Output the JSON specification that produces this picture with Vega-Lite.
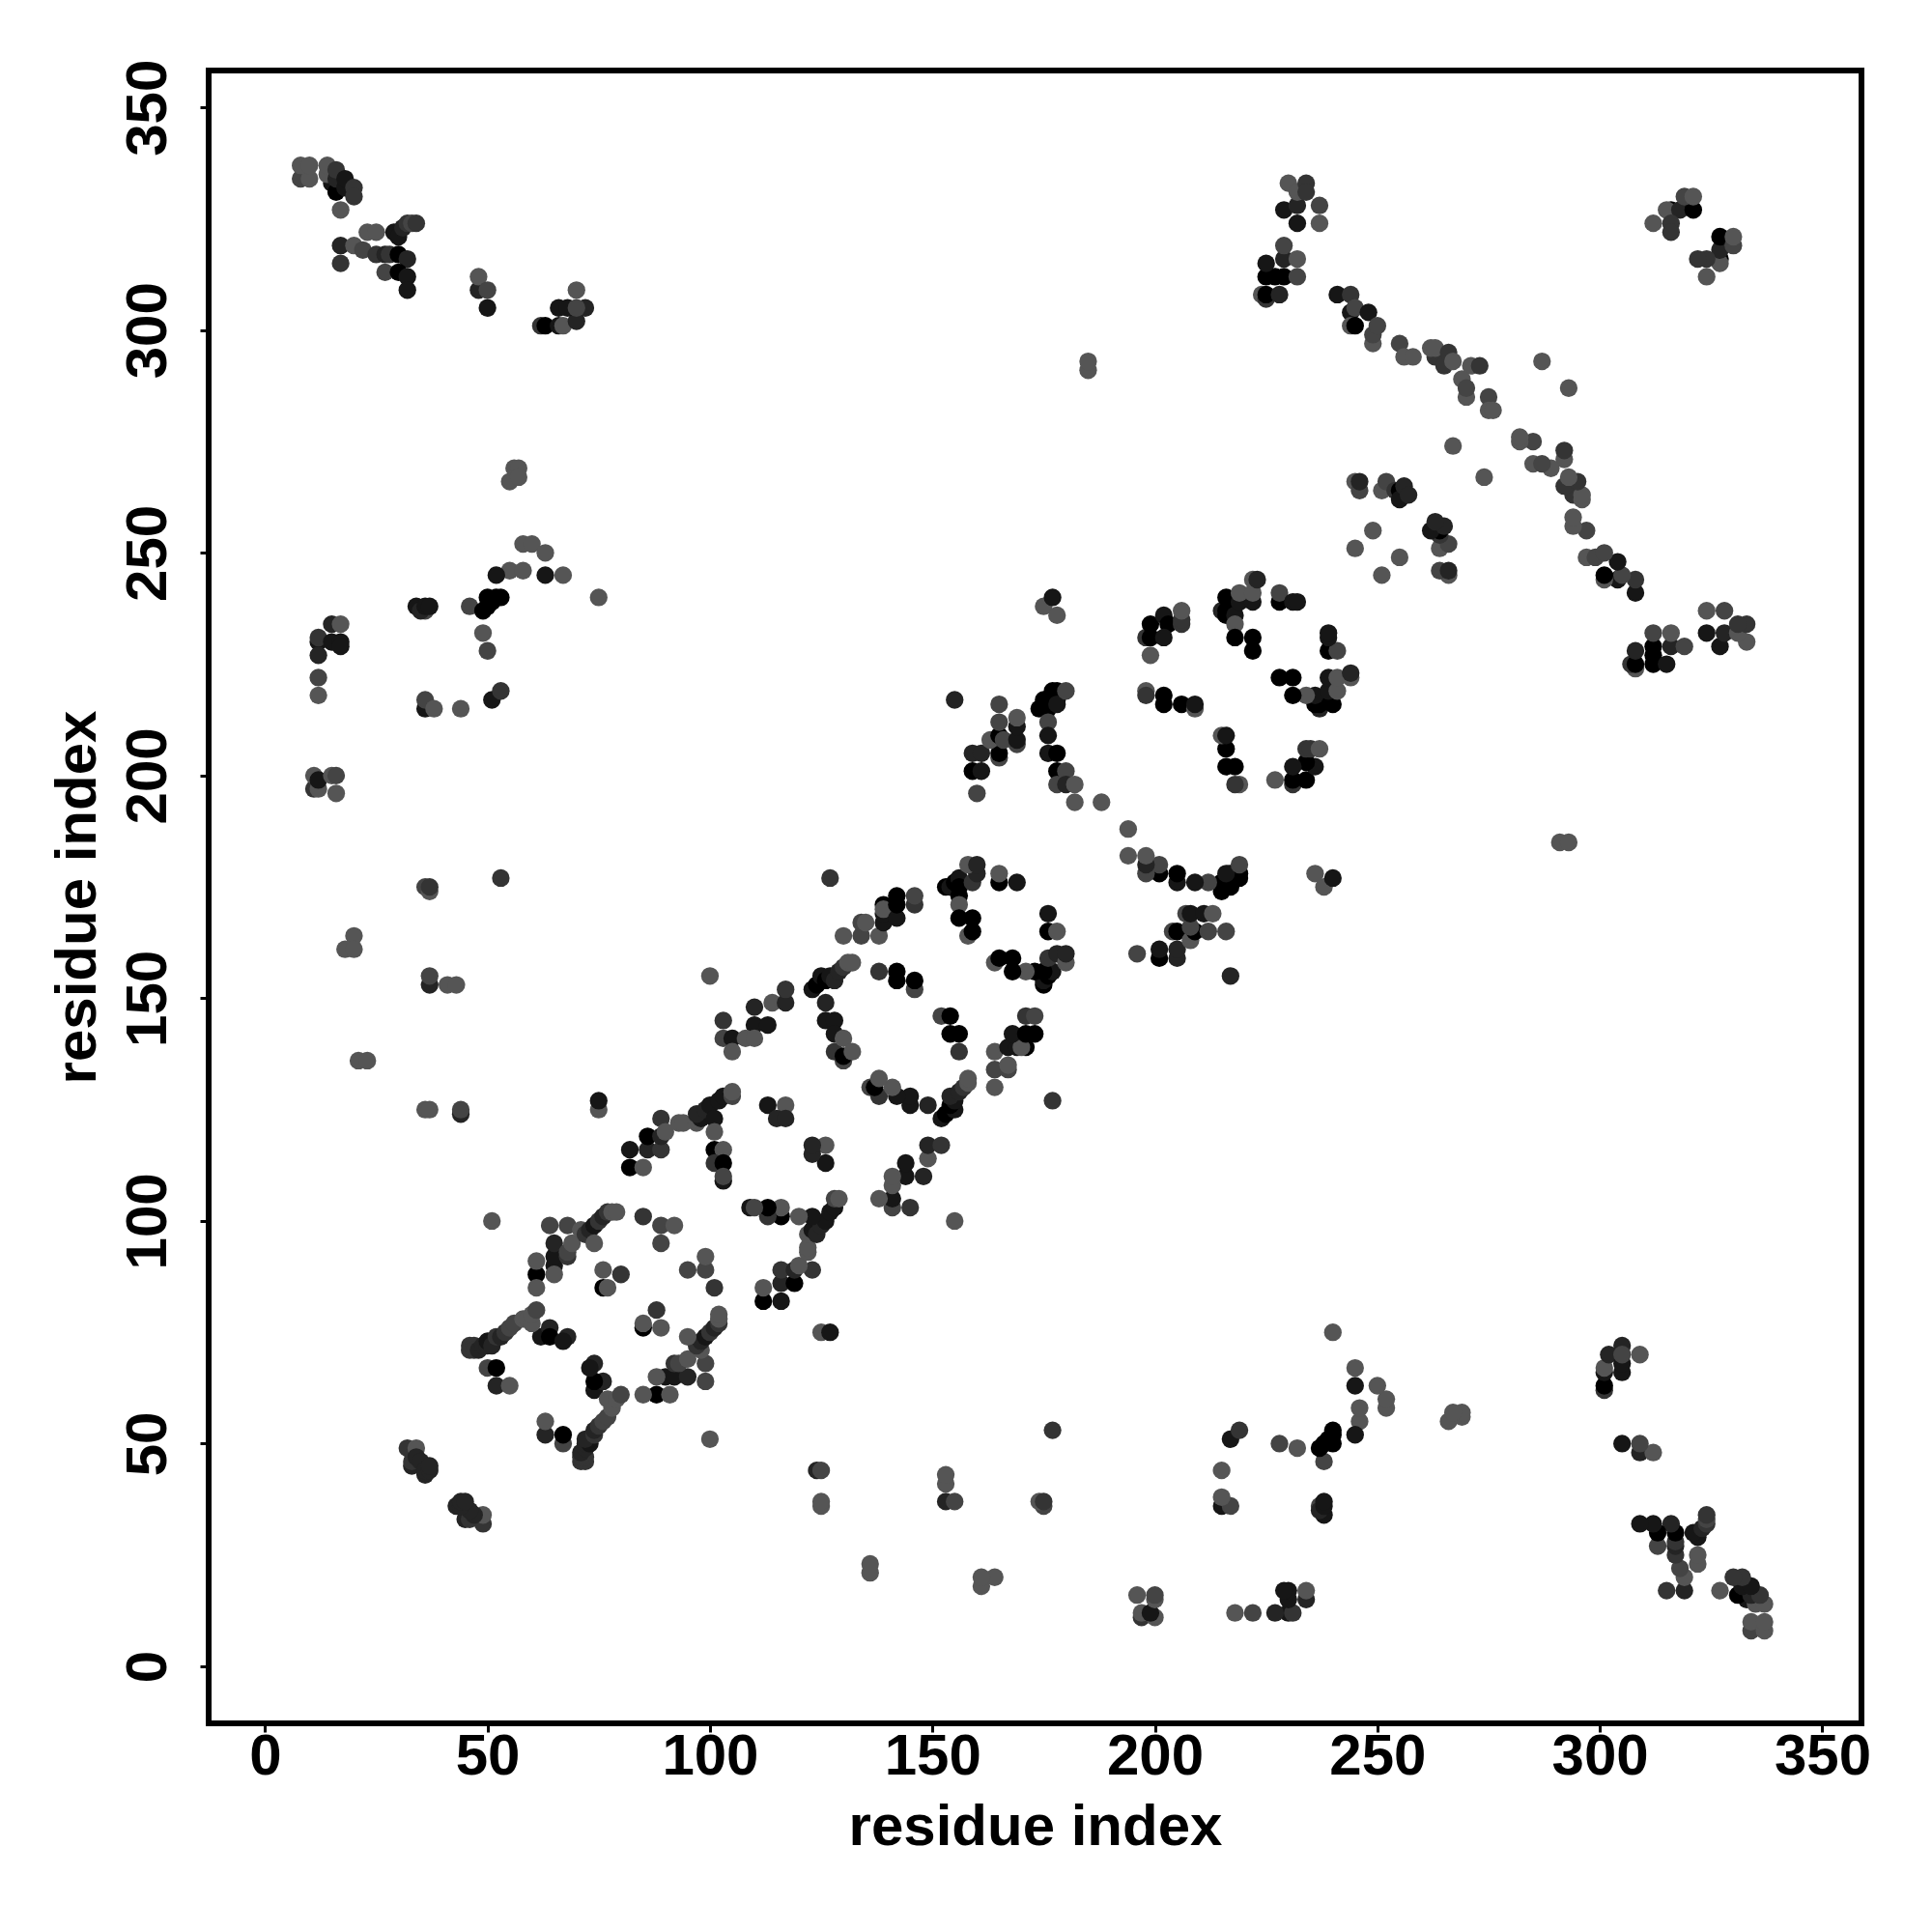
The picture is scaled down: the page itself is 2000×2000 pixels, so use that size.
{"$schema":"https://vega.github.io/schema/vega-lite/v6.json","width":1711,"height":1711,"autosize":{"type":"none"},"padding":{"left":216,"top":73,"right":73,"bottom":216},"background":"white","view":{"stroke":"#000000","strokeWidth":6,"fill":"white"},
"data":{"values":[
{"x":8,"y":334,"s":4},{"x":10,"y":334,"s":5},{"x":8,"y":337,"s":5},{"x":10,"y":337,"s":5},{"x":15,"y":333,"s":1},{"x":16,"y":331,"s":0},{"x":14,"y":335,"s":5},{"x":14,"y":337,"s":5},{"x":16,"y":334,"s":2},{"x":16,"y":336,"s":3},{"x":18,"y":332,"s":1},{"x":18,"y":334,"s":1},{"x":20,"y":332,"s":3},{"x":20,"y":330,"s":3},{"x":17,"y":327,"s":5},
{"x":23,"y":322,"s":5},{"x":25,"y":322,"s":5},{"x":29,"y":322,"s":1},{"x":30,"y":321,"s":1},{"x":31,"y":323,"s":2},{"x":32,"y":324,"s":3},{"x":33,"y":324,"s":4},{"x":34,"y":324,"s":3},{"x":17,"y":319,"s":2},{"x":20,"y":319,"s":5},{"x":22,"y":318,"s":4},{"x":25,"y":317,"s":3},{"x":27,"y":317,"s":2},{"x":28,"y":317,"s":3},{"x":30,"y":317,"s":0},{"x":32,"y":316,"s":2},{"x":17,"y":315,"s":3},{"x":27,"y":313,"s":4},{"x":30,"y":313,"s":0},{"x":32,"y":312,"s":1},{"x":32,"y":309,"s":1},
{"x":48,"y":309,"s":2},{"x":48,"y":312,"s":5},{"x":50,"y":309,"s":4},{"x":50,"y":305,"s":1},{"x":62,"y":301,"s":3},{"x":63,"y":301,"s":0},{"x":66,"y":301,"s":1},{"x":67,"y":301,"s":5},{"x":70,"y":302,"s":2},{"x":66,"y":305,"s":1},{"x":68,"y":305,"s":1},{"x":72,"y":305,"s":2},{"x":70,"y":305,"s":4},{"x":70,"y":309,"s":5},
{"x":55,"y":266,"s":5},{"x":56,"y":269,"s":5},{"x":57,"y":269,"s":5},{"x":57,"y":267,"s":5},{"x":58,"y":252,"s":5},{"x":60,"y":252,"s":5},{"x":63,"y":250,"s":5},{"x":55,"y":246,"s":5},{"x":58,"y":246,"s":5},{"x":63,"y":245,"s":1},{"x":67,"y":245,"s":5},{"x":75,"y":240,"s":5},
{"x":46,"y":238,"s":4},{"x":52,"y":245,"s":1},{"x":53,"y":240,"s":0},{"x":52,"y":240,"s":0},{"x":51,"y":239,"s":0},{"x":50,"y":238,"s":0},{"x":49,"y":237,"s":0},{"x":50,"y":240,"s":0},{"x":49,"y":232,"s":5},{"x":50,"y":228,"s":4},{"x":51,"y":217,"s":1},{"x":53,"y":219,"s":3},
{"x":36,"y":237,"s":4},{"x":34,"y":238,"s":1},{"x":35,"y":237,"s":2},{"x":36,"y":238,"s":1},{"x":37,"y":238,"s":1},{"x":36,"y":215,"s":1},{"x":36,"y":217,"s":4},{"x":38,"y":215,"s":5},{"x":44,"y":215,"s":5},
{"x":15,"y":234,"s":2},{"x":17,"y":234,"s":5},{"x":12,"y":230,"s":1},{"x":12,"y":231,"s":3},{"x":15,"y":230,"s":1},{"x":17,"y":230,"s":1},{"x":17,"y":229,"s":1},{"x":12,"y":227,"s":2},{"x":12,"y":222,"s":4},{"x":12,"y":218,"s":5},
{"x":11,"y":197,"s":3},{"x":11,"y":200,"s":5},{"x":12,"y":197,"s":5},{"x":12,"y":199,"s":1},{"x":15,"y":200,"s":5},{"x":16,"y":196,"s":5},{"x":16,"y":200,"s":4},{"x":36,"y":175,"s":4},{"x":37,"y":174,"s":5},{"x":37,"y":175,"s":3},{"x":53,"y":177,"s":3},{"x":20,"y":164,"s":5},{"x":18,"y":161,"s":5},{"x":20,"y":161,"s":5},{"x":37,"y":153,"s":2},{"x":37,"y":155,"s":4},{"x":41,"y":153,"s":5},{"x":43,"y":153,"s":5},{"x":21,"y":136,"s":5},{"x":23,"y":136,"s":5},{"x":36,"y":125,"s":5},{"x":37,"y":125,"s":5},{"x":44,"y":124,"s":2},{"x":44,"y":125,"s":4},{"x":75,"y":125,"s":5},{"x":75,"y":127,"s":1},{"x":51,"y":100,"s":5},
{"x":32,"y":49,"s":3},{"x":34,"y":49,"s":5},{"x":33,"y":45,"s":2},{"x":33,"y":46,"s":3},{"x":34,"y":47,"s":2},{"x":35,"y":46,"s":2},{"x":36,"y":43,"s":2},{"x":36,"y":44,"s":2},{"x":37,"y":44,"s":2},{"x":37,"y":45,"s":2},
{"x":50,"y":67,"s":4},{"x":52,"y":67,"s":0},{"x":52,"y":63,"s":2},{"x":55,"y":63,"s":5},{"x":62,"y":74,"s":1},{"x":64,"y":76,"s":2},{"x":64,"y":74,"s":0},{"x":68,"y":74,"s":2},{"x":67,"y":73,"s":1},
{"x":46,"y":72,"s":3},{"x":46,"y":71,"s":3},{"x":47,"y":72,"s":3},{"x":47,"y":71,"s":3},{"x":48,"y":71,"s":2},{"x":49,"y":72,"s":2},{"x":50,"y":72,"s":2},{"x":50,"y":73,"s":1},{"x":51,"y":73,"s":1},{"x":51,"y":72,"s":2},{"x":52,"y":74,"s":3},{"x":53,"y":74,"s":2},{"x":54,"y":75,"s":3},{"x":55,"y":76,"s":4},{"x":56,"y":77,"s":4},{"x":58,"y":78,"s":5},{"x":59,"y":78,"s":5},{"x":60,"y":77,"s":5},{"x":60,"y":79,"s":5},{"x":61,"y":80,"s":4},
{"x":61,"y":88,"s":0},{"x":61,"y":91,"s":5},{"x":61,"y":85,"s":5},{"x":65,"y":90,"s":1},{"x":65,"y":92,"s":1},{"x":65,"y":95,"s":2},{"x":65,"y":88,"s":5},{"x":68,"y":92,"s":3},{"x":68,"y":93,"s":4},{"x":69,"y":95,"s":5},{"x":64,"y":99,"s":4},{"x":68,"y":99,"s":4},{"x":71,"y":98,"s":5},{"x":72,"y":97,"s":3},{"x":73,"y":98,"s":2},{"x":74,"y":99,"s":1},{"x":74,"y":95,"s":5},{"x":75,"y":100,"s":3},{"x":76,"y":101,"s":2},{"x":77,"y":102,"s":3},{"x":78,"y":102,"s":5},{"x":79,"y":102,"s":5},
{"x":85,"y":101,"s":3},{"x":89,"y":99,"s":4},{"x":92,"y":99,"s":5},{"x":89,"y":95,"s":4},{"x":76,"y":85,"s":0},{"x":77,"y":85,"s":5},{"x":76,"y":89,"s":5},{"x":80,"y":88,"s":3},
{"x":82,"y":116,"s":1},{"x":82,"y":112,"s":0},{"x":85,"y":112,"s":5},{"x":86,"y":116,"s":2},{"x":86,"y":119,"s":0},{"x":89,"y":116,"s":3},{"x":89,"y":119,"s":2},{"x":89,"y":123,"s":3},{"x":90,"y":120,"s":5},{"x":93,"y":122,"s":5},{"x":94,"y":122,"s":5},{"x":97,"y":122,"s":5},{"x":98,"y":123,"s":1},{"x":97,"y":124,"s":2},{"x":99,"y":125,"s":2},{"x":100,"y":126,"s":1},{"x":101,"y":123,"s":1},{"x":102,"y":127,"s":1},{"x":103,"y":128,"s":1},{"x":105,"y":128,"s":4},{"x":105,"y":129,"s":5},{"x":101,"y":120,"s":5},
{"x":101,"y":116,"s":0},{"x":103,"y":116,"s":5},{"x":101,"y":113,"s":3},{"x":103,"y":113,"s":0},{"x":103,"y":109,"s":1},{"x":103,"y":110,"s":4},{"x":113,"y":126,"s":1},{"x":117,"y":126,"s":5},{"x":115,"y":123,"s":2},{"x":117,"y":123,"s":2},
{"x":103,"y":145,"s":3},{"x":103,"y":141,"s":4},{"x":105,"y":141,"s":1},{"x":105,"y":138,"s":5},{"x":100,"y":155,"s":5},{"x":110,"y":148,"s":2},{"x":110,"y":144,"s":1},{"x":113,"y":144,"s":1},{"x":114,"y":149,"s":5},{"x":117,"y":149,"s":2},{"x":117,"y":152,"s":3},{"x":108,"y":141,"s":5},{"x":110,"y":141,"s":5},
{"x":123,"y":152,"s":1},{"x":124,"y":153,"s":0},{"x":125,"y":155,"s":1},{"x":126,"y":154,"s":0},{"x":127,"y":155,"s":1},{"x":128,"y":154,"s":2},{"x":129,"y":156,"s":2},{"x":130,"y":157,"s":3},{"x":131,"y":158,"s":5},{"x":132,"y":158,"s":5},{"x":126,"y":149,"s":2},{"x":126,"y":145,"s":1},{"x":128,"y":145,"s":1},{"x":128,"y":142,"s":1},{"x":128,"y":138,"s":3},{"x":130,"y":141,"s":5},{"x":130,"y":136,"s":4},{"x":130,"y":137,"s":0},{"x":132,"y":138,"s":5},
{"x":130,"y":164,"s":5},{"x":134,"y":164,"s":4},{"x":138,"y":164,"s":5},{"x":134,"y":167,"s":4},{"x":135,"y":167,"s":5},{"x":139,"y":167,"s":1},{"x":139,"y":169,"s":1},{"x":139,"y":171,"s":0},{"x":139,"y":170,"s":5},{"x":142,"y":168,"s":1},{"x":142,"y":171,"s":0},{"x":142,"y":173,"s":0},{"x":146,"y":171,"s":3},{"x":146,"y":173,"s":4},{"x":127,"y":177,"s":3},
{"x":138,"y":156,"s":3},{"x":142,"y":156,"s":0},{"x":142,"y":154,"s":0},{"x":146,"y":152,"s":4},{"x":146,"y":154,"s":0},
{"x":153,"y":175,"s":0},{"x":154,"y":175,"s":1},{"x":155,"y":176,"s":0},{"x":156,"y":177,"s":1},{"x":156,"y":173,"s":0},{"x":156,"y":175,"s":0},{"x":159,"y":176,"s":3},{"x":160,"y":178,"s":2},{"x":158,"y":180,"s":5},{"x":160,"y":180,"s":2},{"x":156,"y":171,"s":5},{"x":156,"y":168,"s":0},{"x":159,"y":168,"s":0},{"x":158,"y":164,"s":5},{"x":159,"y":165,"s":0},{"x":165,"y":176,"s":0},{"x":165,"y":178,"s":5},{"x":169,"y":176,"s":1},
{"x":155,"y":217,"s":2},{"x":159,"y":205,"s":2},{"x":161,"y":205,"s":2},{"x":159,"y":201,"s":0},{"x":161,"y":201,"s":1},{"x":160,"y":196,"s":4},{"x":165,"y":204,"s":4},{"x":165,"y":205,"s":0},{"x":163,"y":208,"s":5},{"x":165,"y":209,"s":0},{"x":166,"y":208,"s":4},{"x":165,"y":212,"s":4},{"x":165,"y":216,"s":4},{"x":169,"y":207,"s":4},{"x":169,"y":208,"s":1},{"x":169,"y":211,"s":1},{"x":169,"y":213,"s":5},
{"x":174,"y":215,"s":0},{"x":175,"y":217,"s":0},{"x":176,"y":215,"s":0},{"x":177,"y":219,"s":0},{"x":178,"y":219,"s":0},{"x":178,"y":217,"s":0},{"x":178,"y":216,"s":1},{"x":180,"y":219,"s":4},{"x":176,"y":212,"s":4},{"x":176,"y":209,"s":1},{"x":176,"y":205,"s":1},{"x":178,"y":205,"s":0},{"x":178,"y":201,"s":0},{"x":180,"y":201,"s":4},{"x":178,"y":198,"s":4},{"x":180,"y":198,"s":2},{"x":182,"y":198,"s":5},{"x":182,"y":194,"s":5},{"x":188,"y":194,"s":5},{"x":185,"y":291,"s":5},{"x":185,"y":293,"s":5},{"x":175,"y":238,"s":5},{"x":177,"y":240,"s":1},{"x":178,"y":236,"s":5},
{"x":198,"y":219,"s":5},{"x":198,"y":218,"s":3},{"x":202,"y":218,"s":0},{"x":202,"y":216,"s":0},{"x":206,"y":216,"s":0},{"x":209,"y":215,"s":5},{"x":209,"y":216,"s":1},{"x":198,"y":231,"s":3},{"x":199,"y":231,"s":0},{"x":199,"y":234,"s":0},{"x":199,"y":227,"s":5},{"x":202,"y":236,"s":1},{"x":203,"y":234,"s":0},{"x":202,"y":231,"s":1},{"x":206,"y":234,"s":3},{"x":206,"y":235,"s":3},{"x":206,"y":237,"s":5},
{"x":215,"y":237,"s":2},{"x":216,"y":237,"s":0},{"x":216,"y":240,"s":0},{"x":216,"y":236,"s":0},{"x":218,"y":236,"s":1},{"x":219,"y":239,"s":1},{"x":218,"y":234,"s":5},{"x":218,"y":231,"s":0},{"x":222,"y":231,"s":0},{"x":222,"y":228,"s":0},{"x":222,"y":239,"s":1},{"x":219,"y":241,"s":5},{"x":222,"y":241,"s":5},{"x":222,"y":244,"s":5},{"x":223,"y":244,"s":2},{"x":228,"y":239,"s":0},{"x":228,"y":241,"s":4},{"x":231,"y":239,"s":1},{"x":232,"y":239,"s":1},
{"x":224,"y":308,"s":5},{"x":225,"y":307,"s":3},{"x":225,"y":308,"s":0},{"x":228,"y":308,"s":2},{"x":225,"y":312,"s":0},{"x":227,"y":312,"s":0},{"x":229,"y":312,"s":0},{"x":232,"y":312,"s":4},{"x":225,"y":315,"s":1},{"x":229,"y":316,"s":2},{"x":232,"y":316,"s":5},{"x":229,"y":319,"s":4},{"x":229,"y":327,"s":1},{"x":232,"y":328,"s":2},{"x":232,"y":324,"s":1},{"x":230,"y":333,"s":5},{"x":232,"y":331,"s":5},{"x":234,"y":333,"s":3},{"x":234,"y":331,"s":3},{"x":237,"y":328,"s":4},{"x":237,"y":324,"s":5},
{"x":241,"y":308,"s":1},{"x":244,"y":308,"s":3},{"x":244,"y":304,"s":1},{"x":245,"y":305,"s":4},{"x":248,"y":304,"s":1},{"x":244,"y":301,"s":5},{"x":245,"y":301,"s":0},{"x":249,"y":297,"s":5},{"x":249,"y":299,"s":4},{"x":250,"y":301,"s":4},{"x":255,"y":297,"s":4},{"x":256,"y":294,"s":5},{"x":258,"y":294,"s":5},{"x":263,"y":294,"s":3},{"x":262,"y":296,"s":5},{"x":263,"y":296,"s":5},{"x":265,"y":292,"s":3},{"x":266,"y":295,"s":3},{"x":267,"y":293,"s":5},{"x":271,"y":292,"s":5},{"x":273,"y":292,"s":3},{"x":269,"y":289,"s":5},{"x":270,"y":285,"s":5},{"x":270,"y":287,"s":4},{"x":275,"y":285,"s":4},{"x":275,"y":282,"s":5},{"x":276,"y":282,"s":5},{"x":287,"y":293,"s":5},{"x":267,"y":274,"s":5},
{"x":245,"y":266,"s":5},{"x":246,"y":264,"s":4},{"x":246,"y":266,"s":2},{"x":251,"y":264,"s":5},{"x":252,"y":266,"s":4},{"x":254,"y":264,"s":3},{"x":255,"y":264,"s":0},{"x":255,"y":262,"s":1},{"x":256,"y":265,"s":2},{"x":257,"y":263,"s":2},{"x":249,"y":255,"s":5},{"x":245,"y":251,"s":5},
{"x":316,"y":327,"s":0},{"x":315,"y":327,"s":5},{"x":318,"y":327,"s":2},{"x":321,"y":327,"s":0},{"x":319,"y":330,"s":4},{"x":321,"y":330,"s":5},{"x":312,"y":324,"s":5},{"x":316,"y":324,"s":3},{"x":316,"y":322,"s":3},

{"y":8,"x":334,"s":4},{"y":10,"x":334,"s":5},{"y":8,"x":337,"s":5},{"y":10,"x":337,"s":5},{"y":15,"x":333,"s":1},{"y":16,"x":331,"s":0},{"y":14,"x":335,"s":5},{"y":14,"x":337,"s":5},{"y":16,"x":334,"s":2},{"y":16,"x":336,"s":3},{"y":18,"x":332,"s":1},{"y":18,"x":334,"s":1},{"y":20,"x":332,"s":3},{"y":20,"x":330,"s":3},{"y":17,"x":327,"s":5},
{"y":23,"x":322,"s":5},{"y":25,"x":322,"s":5},{"y":29,"x":322,"s":1},{"y":30,"x":321,"s":1},{"y":31,"x":323,"s":2},{"y":32,"x":324,"s":3},{"y":33,"x":324,"s":4},{"y":34,"x":324,"s":3},{"y":17,"x":319,"s":2},{"y":20,"x":319,"s":5},{"y":22,"x":318,"s":4},{"y":25,"x":317,"s":3},{"y":27,"x":317,"s":2},{"y":28,"x":317,"s":3},{"y":30,"x":317,"s":0},{"y":32,"x":316,"s":2},{"y":17,"x":315,"s":3},{"y":27,"x":313,"s":4},{"y":30,"x":313,"s":0},{"y":32,"x":312,"s":1},{"y":32,"x":309,"s":1},
{"y":48,"x":309,"s":2},{"y":48,"x":312,"s":5},{"y":50,"x":309,"s":4},{"y":50,"x":305,"s":1},{"y":62,"x":301,"s":3},{"y":63,"x":301,"s":0},{"y":66,"x":301,"s":1},{"y":67,"x":301,"s":5},{"y":70,"x":302,"s":2},{"y":66,"x":305,"s":1},{"y":68,"x":305,"s":1},{"y":72,"x":305,"s":2},{"y":70,"x":305,"s":4},{"y":70,"x":309,"s":5},
{"y":55,"x":266,"s":5},{"y":56,"x":269,"s":5},{"y":57,"x":269,"s":5},{"y":57,"x":267,"s":5},{"y":58,"x":252,"s":5},{"y":60,"x":252,"s":5},{"y":63,"x":250,"s":5},{"y":55,"x":246,"s":5},{"y":58,"x":246,"s":5},{"y":63,"x":245,"s":1},{"y":67,"x":245,"s":5},{"y":75,"x":240,"s":5},
{"y":46,"x":238,"s":4},{"y":52,"x":245,"s":1},{"y":53,"x":240,"s":0},{"y":52,"x":240,"s":0},{"y":51,"x":239,"s":0},{"y":50,"x":238,"s":0},{"y":49,"x":237,"s":0},{"y":50,"x":240,"s":0},{"y":49,"x":232,"s":5},{"y":50,"x":228,"s":4},{"y":51,"x":217,"s":1},{"y":53,"x":219,"s":3},
{"y":36,"x":237,"s":4},{"y":34,"x":238,"s":1},{"y":35,"x":237,"s":2},{"y":36,"x":238,"s":1},{"y":37,"x":238,"s":1},{"y":36,"x":215,"s":1},{"y":36,"x":217,"s":4},{"y":38,"x":215,"s":5},{"y":44,"x":215,"s":5},
{"y":15,"x":234,"s":2},{"y":17,"x":234,"s":5},{"y":12,"x":230,"s":1},{"y":12,"x":231,"s":3},{"y":15,"x":230,"s":1},{"y":17,"x":230,"s":1},{"y":17,"x":229,"s":1},{"y":12,"x":227,"s":2},{"y":12,"x":222,"s":4},{"y":12,"x":218,"s":5},
{"y":11,"x":197,"s":3},{"y":11,"x":200,"s":5},{"y":12,"x":197,"s":5},{"y":12,"x":199,"s":1},{"y":15,"x":200,"s":5},{"y":16,"x":196,"s":5},{"y":16,"x":200,"s":4},{"y":36,"x":175,"s":4},{"y":37,"x":174,"s":5},{"y":37,"x":175,"s":3},{"y":53,"x":177,"s":3},{"y":20,"x":164,"s":5},{"y":18,"x":161,"s":5},{"y":20,"x":161,"s":5},{"y":37,"x":153,"s":2},{"y":37,"x":155,"s":4},{"y":41,"x":153,"s":5},{"y":43,"x":153,"s":5},{"y":21,"x":136,"s":5},{"y":23,"x":136,"s":5},{"y":36,"x":125,"s":5},{"y":37,"x":125,"s":5},{"y":44,"x":124,"s":2},{"y":44,"x":125,"s":4},{"y":75,"x":125,"s":5},{"y":75,"x":127,"s":1},{"y":51,"x":100,"s":5},
{"y":32,"x":49,"s":3},{"y":34,"x":49,"s":5},{"y":33,"x":45,"s":2},{"y":33,"x":46,"s":3},{"y":34,"x":47,"s":2},{"y":35,"x":46,"s":2},{"y":36,"x":43,"s":2},{"y":36,"x":44,"s":2},{"y":37,"x":44,"s":2},{"y":37,"x":45,"s":2},
{"y":50,"x":67,"s":4},{"y":52,"x":67,"s":0},{"y":52,"x":63,"s":2},{"y":55,"x":63,"s":5},{"y":62,"x":74,"s":1},{"y":64,"x":76,"s":2},{"y":64,"x":74,"s":0},{"y":68,"x":74,"s":2},{"y":67,"x":73,"s":1},
{"y":46,"x":72,"s":3},{"y":46,"x":71,"s":3},{"y":47,"x":72,"s":3},{"y":47,"x":71,"s":3},{"y":48,"x":71,"s":2},{"y":49,"x":72,"s":2},{"y":50,"x":72,"s":2},{"y":50,"x":73,"s":1},{"y":51,"x":73,"s":1},{"y":51,"x":72,"s":2},{"y":52,"x":74,"s":3},{"y":53,"x":74,"s":2},{"y":54,"x":75,"s":3},{"y":55,"x":76,"s":4},{"y":56,"x":77,"s":4},{"y":58,"x":78,"s":5},{"y":59,"x":78,"s":5},{"y":60,"x":77,"s":5},{"y":60,"x":79,"s":5},{"y":61,"x":80,"s":4},
{"y":61,"x":88,"s":0},{"y":61,"x":91,"s":5},{"y":61,"x":85,"s":5},{"y":65,"x":90,"s":1},{"y":65,"x":92,"s":1},{"y":65,"x":95,"s":2},{"y":65,"x":88,"s":5},{"y":68,"x":92,"s":3},{"y":68,"x":93,"s":4},{"y":69,"x":95,"s":5},{"y":64,"x":99,"s":4},{"y":68,"x":99,"s":4},{"y":71,"x":98,"s":5},{"y":72,"x":97,"s":3},{"y":73,"x":98,"s":2},{"y":74,"x":99,"s":1},{"y":74,"x":95,"s":5},{"y":75,"x":100,"s":3},{"y":76,"x":101,"s":2},{"y":77,"x":102,"s":3},{"y":78,"x":102,"s":5},{"y":79,"x":102,"s":5},
{"y":85,"x":101,"s":3},{"y":89,"x":99,"s":4},{"y":92,"x":99,"s":5},{"y":89,"x":95,"s":4},{"y":76,"x":85,"s":0},{"y":77,"x":85,"s":5},{"y":76,"x":89,"s":5},{"y":80,"x":88,"s":3},
{"y":82,"x":116,"s":1},{"y":82,"x":112,"s":0},{"y":85,"x":112,"s":5},{"y":86,"x":116,"s":2},{"y":86,"x":119,"s":0},{"y":89,"x":116,"s":3},{"y":89,"x":119,"s":2},{"y":89,"x":123,"s":3},{"y":90,"x":120,"s":5},{"y":93,"x":122,"s":5},{"y":94,"x":122,"s":5},{"y":97,"x":122,"s":5},{"y":98,"x":123,"s":1},{"y":97,"x":124,"s":2},{"y":99,"x":125,"s":2},{"y":100,"x":126,"s":1},{"y":101,"x":123,"s":1},{"y":102,"x":127,"s":1},{"y":103,"x":128,"s":1},{"y":105,"x":128,"s":4},{"y":105,"x":129,"s":5},{"y":101,"x":120,"s":5},
{"y":101,"x":116,"s":0},{"y":103,"x":116,"s":5},{"y":101,"x":113,"s":3},{"y":103,"x":113,"s":0},{"y":103,"x":109,"s":1},{"y":103,"x":110,"s":4},{"y":113,"x":126,"s":1},{"y":117,"x":126,"s":5},{"y":115,"x":123,"s":2},{"y":117,"x":123,"s":2},
{"y":103,"x":145,"s":3},{"y":103,"x":141,"s":4},{"y":105,"x":141,"s":1},{"y":105,"x":138,"s":5},{"y":100,"x":155,"s":5},{"y":110,"x":148,"s":2},{"y":110,"x":144,"s":1},{"y":113,"x":144,"s":1},{"y":114,"x":149,"s":5},{"y":117,"x":149,"s":2},{"y":117,"x":152,"s":3},{"y":108,"x":141,"s":5},{"y":110,"x":141,"s":5},
{"y":123,"x":152,"s":1},{"y":124,"x":153,"s":0},{"y":125,"x":155,"s":1},{"y":126,"x":154,"s":0},{"y":127,"x":155,"s":1},{"y":128,"x":154,"s":2},{"y":129,"x":156,"s":2},{"y":130,"x":157,"s":3},{"y":131,"x":158,"s":5},{"y":132,"x":158,"s":5},{"y":126,"x":149,"s":2},{"y":126,"x":145,"s":1},{"y":128,"x":145,"s":1},{"y":128,"x":142,"s":1},{"y":128,"x":138,"s":3},{"y":130,"x":141,"s":5},{"y":130,"x":136,"s":4},{"y":130,"x":137,"s":0},{"y":132,"x":138,"s":5},
{"y":130,"x":164,"s":5},{"y":134,"x":164,"s":4},{"y":138,"x":164,"s":5},{"y":134,"x":167,"s":4},{"y":135,"x":167,"s":5},{"y":139,"x":167,"s":1},{"y":139,"x":169,"s":1},{"y":139,"x":171,"s":0},{"y":139,"x":170,"s":5},{"y":142,"x":168,"s":1},{"y":142,"x":171,"s":0},{"y":142,"x":173,"s":0},{"y":146,"x":171,"s":3},{"y":146,"x":173,"s":4},{"y":127,"x":177,"s":3},
{"y":138,"x":156,"s":3},{"y":142,"x":156,"s":0},{"y":142,"x":154,"s":0},{"y":146,"x":152,"s":4},{"y":146,"x":154,"s":0},
{"y":153,"x":175,"s":0},{"y":154,"x":175,"s":1},{"y":155,"x":176,"s":0},{"y":156,"x":177,"s":1},{"y":156,"x":173,"s":0},{"y":156,"x":175,"s":0},{"y":159,"x":176,"s":3},{"y":160,"x":178,"s":2},{"y":158,"x":180,"s":5},{"y":160,"x":180,"s":2},{"y":156,"x":171,"s":5},{"y":156,"x":168,"s":0},{"y":159,"x":168,"s":0},{"y":158,"x":164,"s":5},{"y":159,"x":165,"s":0},{"y":165,"x":176,"s":0},{"y":165,"x":178,"s":5},{"y":169,"x":176,"s":1},
{"y":155,"x":217,"s":2},{"y":159,"x":205,"s":2},{"y":161,"x":205,"s":2},{"y":159,"x":201,"s":0},{"y":161,"x":201,"s":1},{"y":160,"x":196,"s":4},{"y":165,"x":204,"s":4},{"y":165,"x":205,"s":0},{"y":163,"x":208,"s":5},{"y":165,"x":209,"s":0},{"y":166,"x":208,"s":4},{"y":165,"x":212,"s":4},{"y":165,"x":216,"s":4},{"y":169,"x":207,"s":4},{"y":169,"x":208,"s":1},{"y":169,"x":211,"s":1},{"y":169,"x":213,"s":5},
{"y":174,"x":215,"s":0},{"y":175,"x":217,"s":0},{"y":176,"x":215,"s":0},{"y":177,"x":219,"s":0},{"y":178,"x":219,"s":0},{"y":178,"x":217,"s":0},{"y":178,"x":216,"s":1},{"y":180,"x":219,"s":4},{"y":176,"x":212,"s":4},{"y":176,"x":209,"s":1},{"y":176,"x":205,"s":1},{"y":178,"x":205,"s":0},{"y":178,"x":201,"s":0},{"y":180,"x":201,"s":4},{"y":178,"x":198,"s":4},{"y":180,"x":198,"s":2},{"y":182,"x":198,"s":5},{"y":182,"x":194,"s":5},{"y":188,"x":194,"s":5},{"y":185,"x":291,"s":5},{"y":185,"x":293,"s":5},{"y":175,"x":238,"s":5},{"y":177,"x":240,"s":1},{"y":178,"x":236,"s":5},
{"y":198,"x":219,"s":5},{"y":198,"x":218,"s":3},{"y":202,"x":218,"s":0},{"y":202,"x":216,"s":0},{"y":206,"x":216,"s":0},{"y":209,"x":215,"s":5},{"y":209,"x":216,"s":1},{"y":198,"x":231,"s":3},{"y":199,"x":231,"s":0},{"y":199,"x":234,"s":0},{"y":199,"x":227,"s":5},{"y":202,"x":236,"s":1},{"y":203,"x":234,"s":0},{"y":202,"x":231,"s":1},{"y":206,"x":234,"s":3},{"y":206,"x":235,"s":3},{"y":206,"x":237,"s":5},
{"y":215,"x":237,"s":2},{"y":216,"x":237,"s":0},{"y":216,"x":240,"s":0},{"y":216,"x":236,"s":0},{"y":218,"x":236,"s":1},{"y":219,"x":239,"s":1},{"y":218,"x":234,"s":5},{"y":218,"x":231,"s":0},{"y":222,"x":231,"s":0},{"y":222,"x":228,"s":0},{"y":222,"x":239,"s":1},{"y":219,"x":241,"s":5},{"y":222,"x":241,"s":5},{"y":222,"x":244,"s":5},{"y":223,"x":244,"s":2},{"y":228,"x":239,"s":0},{"y":228,"x":241,"s":4},{"y":231,"x":239,"s":1},{"y":232,"x":239,"s":1},
{"y":224,"x":308,"s":5},{"y":225,"x":307,"s":3},{"y":225,"x":308,"s":0},{"y":228,"x":308,"s":2},{"y":225,"x":312,"s":0},{"y":227,"x":312,"s":0},{"y":229,"x":312,"s":0},{"y":232,"x":312,"s":4},{"y":225,"x":315,"s":1},{"y":229,"x":316,"s":2},{"y":232,"x":316,"s":5},{"y":229,"x":319,"s":4},{"y":229,"x":327,"s":1},{"y":232,"x":328,"s":2},{"y":232,"x":324,"s":1},{"y":230,"x":333,"s":5},{"y":232,"x":331,"s":5},{"y":234,"x":333,"s":3},{"y":234,"x":331,"s":3},{"y":237,"x":328,"s":4},{"y":237,"x":324,"s":5},
{"y":241,"x":308,"s":1},{"y":244,"x":308,"s":3},{"y":244,"x":304,"s":1},{"y":245,"x":305,"s":4},{"y":248,"x":304,"s":1},{"y":244,"x":301,"s":5},{"y":245,"x":301,"s":0},{"y":249,"x":297,"s":5},{"y":249,"x":299,"s":4},{"y":250,"x":301,"s":4},{"y":255,"x":297,"s":4},{"y":256,"x":294,"s":5},{"y":258,"x":294,"s":5},{"y":263,"x":294,"s":3},{"y":262,"x":296,"s":5},{"y":263,"x":296,"s":5},{"y":265,"x":292,"s":3},{"y":266,"x":295,"s":3},{"y":267,"x":293,"s":5},{"y":271,"x":292,"s":5},{"y":273,"x":292,"s":3},{"y":269,"x":289,"s":5},{"y":270,"x":285,"s":5},{"y":270,"x":287,"s":4},{"y":275,"x":285,"s":4},{"y":275,"x":282,"s":5},{"y":276,"x":282,"s":5},{"y":287,"x":293,"s":5},{"y":267,"x":274,"s":5},
{"y":245,"x":266,"s":5},{"y":246,"x":264,"s":4},{"y":246,"x":266,"s":2},{"y":251,"x":264,"s":5},{"y":252,"x":266,"s":4},{"y":254,"x":264,"s":3},{"y":255,"x":264,"s":0},{"y":255,"x":262,"s":1},{"y":256,"x":265,"s":2},{"y":257,"x":263,"s":2},{"y":249,"x":255,"s":5},{"y":245,"x":251,"s":5},
{"y":316,"x":327,"s":0},{"y":315,"x":327,"s":5},{"y":318,"x":327,"s":2},{"y":321,"x":327,"s":0},{"y":319,"x":330,"s":4},{"y":321,"x":330,"s":5},{"y":312,"x":324,"s":5},{"y":316,"x":324,"s":3},{"y":316,"x":322,"s":3}
]},
"mark":{"type":"circle","size":335,"opacity":1},
"encoding":{
"x":{"field":"x","type":"quantitative","scale":{"domain":[-12.66,358.8],"nice":false,"zero":false},"axis":{"title":"residue index","values":[0,50,100,150,200,250,300,350],"grid":false,"domain":false,"ticks":true,"tickColor":"#000000","tickWidth":3,"tickSize":9,"labelFont":"Liberation Sans","labelFontWeight":"bold","labelFontSize":60,"labelColor":"#000000","labelPadding":-4,"labelFlush":false,"labelOverlap":false,"titleFont":"Liberation Sans","titleFontWeight":"bold","titleFontSize":60,"titleColor":"#000000","titleX":855.5,"titleY":125,"titleBaseline":"alphabetic"}},
"y":{"field":"y","type":"quantitative","scale":{"domain":[-12.8,358.3],"nice":false,"zero":false},"axis":{"title":"residue index","values":[0,50,100,150,200,250,300,350],"grid":false,"domain":false,"ticks":true,"tickColor":"#000000","tickWidth":3,"tickSize":9,"labelFont":"Liberation Sans","labelFontWeight":"bold","labelFontSize":60,"labelColor":"#000000","labelAngle":-90,"labelAlign":"center","labelBaseline":"alphabetic","labelPadding":36,"labelFlush":false,"labelOverlap":false,"titleFont":"Liberation Sans","titleFontWeight":"bold","titleFontSize":60,"titleColor":"#000000","titleAngle":-90,"titleX":-118,"titleY":855.5,"titleBaseline":"alphabetic"}},
"color":{"field":"s","type":"quantitative","scale":{"domain":[0,6],"range":["#000000","#666666"]},"legend":null}
}}
